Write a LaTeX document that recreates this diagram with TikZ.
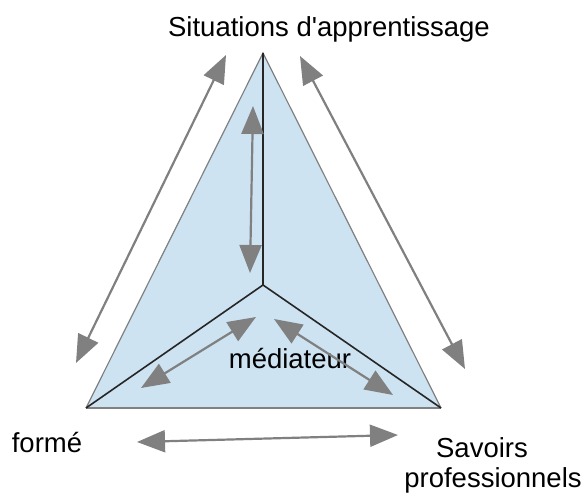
\documentclass[tikz,border=0pt]{standalone}
\usepackage{fontspec}
\setmainfont{Liberation Sans}
\usetikzlibrary{arrows.meta}
\definecolor{triblue}{RGB}{205,227,242}
\definecolor{arrgray}{RGB}{128,128,128}

\begin{document}
\begin{tikzpicture}[x=1pt,y=-1pt,
label/.style={inner sep=0pt,anchor=base,font=\fontsize{27.5}{23.5}\selectfont},
rel/.style={{Triangle[length=28pt,width=22pt]}-{Triangle[length=28pt,width=22pt]},
line width=2.2pt,draw=arrgray,fill=arrgray},
edge/.style={draw=black!85,line width=1.6pt}]
\useasboundingbox (0,0) rectangle (582,495);
% triangle corners and mediator point
\coordinate (top) at (263,53);
\coordinate (left) at (86,408);
\coordinate (right) at (441,408);
\coordinate (med) at (263,285);
\fill[triblue] (top)--(left)--(right)--cycle;
\draw[arrgray,line width=1.2pt] (left)--(top)--(right);
\draw[arrgray,line width=2pt] (left)--(right);
\draw[edge] (top)--(med);\draw[edge] (left)--(med)--(right);
% texts
\node[label] (situations) at (329,37) {Situations d\textquotesingle apprentissage};
\node[label] (forme) at (47,452) {formé};
\node[label] (savoirs) at (482,457) {Savoirs};
\node[label] (professionnels) at (493,487) {professionnels};
\node[label] (mediateur) at (290,368) {médiateur};
% arrow ends
\coordinate (a1) at (226,55);\coordinate (a2) at (76,363);
\coordinate (b1) at (300,56);\coordinate (b2) at (465,369);
\coordinate (c1) at (137,442);\coordinate (c2) at (398,435);
\coordinate (d1) at (253,106);\coordinate (d2) at (250,273);
\coordinate (e1) at (256,317);\coordinate (e2) at (141,388);
\coordinate (f1) at (274,319);\coordinate (f2) at (393,395);
\draw[rel] (a1)--(a2);\draw[rel] (b1)--(b2);\draw[rel] (c1)--(c2);
\draw[rel] (d1)--(d2);\draw[rel] (e1)--(e2);\draw[rel] (f1)--(f2);
\end{tikzpicture}
\end{document}
